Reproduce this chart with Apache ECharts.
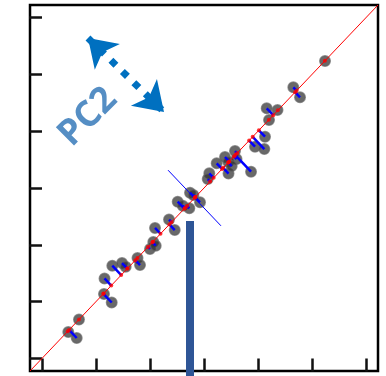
<!DOCTYPE html>
<html>
<head>
<meta charset="utf-8">
<title>PCA projection</title>
<script src="https://cdn.jsdelivr.net/npm/echarts@6/dist/echarts.min.js"></script>
<style>
  html, body { margin: 0; padding: 0; background: #fff; }
  #chart { width: 386px; height: 376px; }
</style>
</head>
<body>
<div id="chart"></div>
<script>
// Observations (two standardized variables)
const xValues = [0.487, 0.643, 0.685, 1.148, 1.291, 1.158, 1.302, 1.482, 1.550, 1.769,
                 1.815, 2.000, 2.061, 2.106, 2.093, 2.352, 2.458, 2.513, 2.606, 2.728,
                 2.741, 2.802, 2.926, 3.098, 3.069, 3.235, 3.389, 3.450, 3.454, 3.574,
                 3.602, 3.513, 3.871, 3.945, 4.117, 4.130, 4.161, 4.204, 4.361, 4.654,
                 4.778, 5.241];
const yValues = [0.465, 0.359, 0.685, 1.134, 0.984, 1.407, 1.632, 1.679, 1.614, 1.767,
                 1.644, 1.926, 2.049, 1.984, 2.296, 2.445, 2.260, 2.759, 2.688, 2.642,
                 2.917, 2.877, 2.748, 3.259, 3.158, 3.435, 3.546, 3.458, 3.255, 3.651,
                 3.510, 3.387, 3.287, 3.727, 3.686, 3.903, 4.403, 4.197, 4.373, 4.773,
                 4.597, 5.236];
const tickValues = [0, 1, 2, 3, 4, 5, 6];
const axisMin = -0.222;
const axisMax = 6.222;

// Rotating axis: thin perpendicular guide and the variance bar
const guideCenter = 2.824;
const guideHalf = 0.49;
const barX = 2.741;
const barTop = 2.419;
const barBottom = -0.31;

// Annotation for the second component
const pc2Label = 'PC2';
const pc2Arrow = [[0.852, 5.641], [2.259, 4.338]];
const pc2LabelPos = [0.852, 4.250];

const points = xValues.map((x, i) => [x, yValues[i]]);
const projections = points.map(([x, y]) => { const p = (x + y) / 2; return [p, p]; });
const residuals = points.map((pt, i) => ({ coords: [pt, projections[i]] }));

const chart = echarts.init(document.getElementById('chart'), null, { renderer: 'canvas' });

const tickStyle = { show: true, length: 13, inside: false, customValues: tickValues,
                    lineStyle: { color: '#111', width: 2.5 } };

chart.setOption({
  animation: false,
  backgroundColor: '#fff',
  grid: {
    left: 30, right: 8, top: 5, bottom: 5,
    containLabel: false,
    outerBoundsMode: 'none',
    show: true, borderColor: '#000', borderWidth: 2.5, backgroundColor: 'transparent'
  },
  xAxis: {
    type: 'value', min: axisMin, max: axisMax,
    axisLine: { show: false }, splitLine: { show: false },
    axisLabel: { show: false }, axisTick: tickStyle
  },
  yAxis: {
    type: 'value', min: axisMin, max: axisMax,
    axisLine: { show: false }, splitLine: { show: false },
    axisLabel: { show: false }, axisTick: tickStyle
  },
  series: [
    {
      name: 'observations', type: 'scatter', data: points, z: 2,
      symbolSize: 10.5,
      itemStyle: { color: 'rgba(52,52,52,0.92)', borderColor: 'rgba(100,100,100,0.85)', borderWidth: 1.5 }
    },
    {
      name: 'PC1', type: 'line', data: [[axisMin, axisMin], [axisMax, axisMax]],
      showSymbol: false, z: 3,
      lineStyle: { color: '#ff0000', width: 1 }
    },
    {
      name: 'residuals', type: 'lines', coordinateSystem: 'cartesian2d', data: residuals, z: 4,
      symbol: 'none',
      lineStyle: { color: '#0000ff', width: 2.5, opacity: 1 }
    },
    {
      name: 'projections', type: 'scatter', data: projections, z: 5,
      symbolSize: 4, itemStyle: { color: '#ff0000' }
    },
    {
      name: 'guide', type: 'lines', coordinateSystem: 'cartesian2d', z: 4,
      data: [{ coords: [[guideCenter - guideHalf, guideCenter + guideHalf],
                        [guideCenter + guideHalf, guideCenter - guideHalf]] }],
      lineStyle: { color: '#0000ff', width: 1, opacity: 1 }
    },
    {
      name: 'variance', type: 'lines', coordinateSystem: 'cartesian2d', z: 6, clip: false,
      data: [{ coords: [[barX, barBottom], [barX, barTop]] }],
      lineStyle: { color: '#2e5596', width: 8, opacity: 1, cap: 'butt' }
    },
    {
      name: 'pc2 arrow', type: 'lines', coordinateSystem: 'cartesian2d', z: 6,
      data: [{ coords: pc2Arrow }],
      symbol: ['arrow', 'arrow'], symbolSize: [27, 28],
      lineStyle: { color: '#0070c0', width: 7, opacity: 1, type: [7, 9], cap: 'butt' }
    },
    {
      name: 'pc2 label', type: 'scatter', data: [pc2LabelPos], z: 6,
      symbol: 'circle', symbolSize: 1, silent: true,
      itemStyle: { color: 'rgba(0,0,0,0)' },
      label: {
        show: true, position: 'inside', formatter: pc2Label, rotate: 45,
        fontFamily: 'Open Sans', fontWeight: 'bold', fontSize: 36, color: '#2a72b5'
      }
    }
  ]
});
</script>
</body>
</html>
